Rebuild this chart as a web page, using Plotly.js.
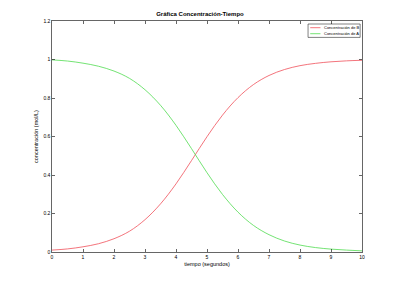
<!DOCTYPE html>
<html><head><meta charset="utf-8">
<script src="https://cdn.plot.ly/plotly-3.0.1.min.js"></script>
<style>html,body{margin:0;padding:0;background:#fff}#g{width:400px;height:284px}</style>
</head><body><div id="g"></div>
<script>
var tiempo = [0,0.5,1,1.5,2,2.5,3,3.5,4,4.5,5,5.5,6,6.5,7,7.5,8,8.5,9,9.5,10];
var concB = [0.010,0.016,0.027,0.043,0.069,0.108,0.168,0.250,0.354,0.475,0.599,0.711,0.802,0.870,0.917,0.948,0.968,0.980,0.988,0.993,0.996];
var concA = [0.998,0.992,0.981,0.965,0.940,0.902,0.843,0.762,0.658,0.537,0.412,0.299,0.207,0.138,0.090,0.057,0.036,0.023,0.015,0.010,0.006];
var xTicks = [0,1,2,3,4,5,6,7,8,9,10];
var yTicks = [0,0.2,0.4,0.6,0.8,1,1.2];
var yLabels = ["0","0.2","0.4","0.6","0.8","1","1.2"];
var seriesNames = ['Concentración de B','Concentración de A'];
var seriesColors = ['#f0505a','#50dc50'];

var FONT = 'Liberation Sans, Arial';
var traces = [
 {x: tiempo, y: concB, mode:'lines', name:seriesNames[0], line:{color:seriesColors[0], width:0.8, shape:'spline'}},
 {x: tiempo, y: concA, mode:'lines', name:seriesNames[1], line:{color:seriesColors[1], width:0.8, shape:'spline'}}
];
var ax = {showgrid:false, zeroline:false, showline:true, mirror:'ticks', linecolor:'#000', linewidth:0.6,
  ticks:'inside', ticklen:3, tickcolor:'#000', tickwidth:0.6, tickfont:{family:FONT, size:5, color:'#000'}};

// manual compact legend (Plotly's legend rows have a 16px minimum height)
var shapes = [{type:'rect', xref:'x domain', yref:'y domain', x0:0.826, x1:0.994, y0:0.929, y1:0.987,
  line:{color:'#000', width:0.5}, fillcolor:'rgba(255,255,255,1)', layer:'above'}];
var annotations = [];
var rowY = [0.971, 0.945];
for (var i = 0; i < 2; i++) {
  shapes.push({type:'line', xref:'x domain', yref:'y domain', x0:0.833, x1:0.866, y0:rowY[i], y1:rowY[i],
    line:{color:seriesColors[i], width:0.8}, layer:'above'});
  annotations.push({xref:'x domain', yref:'y domain', x:0.870, y:rowY[i], xanchor:'left', yanchor:'middle',
    text:seriesNames[i], showarrow:false, font:{family:FONT, size:4, color:'#000'}});
}

var layout = {
  width:400, height:284, paper_bgcolor:'#fff', plot_bgcolor:'#fff',
  margin:{l:52, r:38, t:21, b:32},
  title:{text:'<b>Gráfica Concentración-Tiempo</b>', font:{family:FONT, size:6, color:'#000'}, x:0.5, xanchor:'center', y:0.95, yanchor:'middle'},
  xaxis: Object.assign({}, ax, {range:[0,10], tickvals:xTicks, ticktext:xTicks.map(String),
    title:{text:'tiempo (segundos)', font:{family:FONT, size:5.5, color:'#000'}, standoff:3}}),
  yaxis: Object.assign({}, ax, {range:[0,1.2], tickvals:yTicks, ticktext:yLabels,
    title:{text:'concentración (mol/L)', font:{family:FONT, size:5.5, color:'#000'}, standoff:4}}),
  showlegend:false,
  shapes: shapes,
  annotations: annotations
};
Plotly.newPlot('g', traces, layout, {staticPlot:true});
</script>
</body></html>
